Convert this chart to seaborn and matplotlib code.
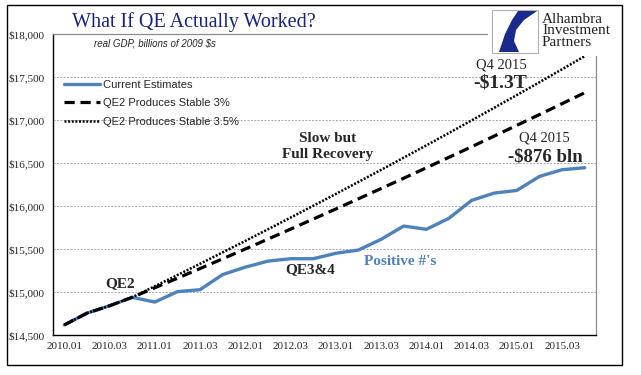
import numpy as np
import pandas as pd
import matplotlib.pyplot as plt
from matplotlib.patches import Rectangle, Polygon
import seaborn as sns

# Quarterly categories shown on the x axis
quarters = [f"{y}.{q:02d}" for y in range(2010, 2016) for q in (1, 2, 3, 4)]
tick_labels = ["2010.01", "2010.03", "2011.01", "2011.03", "2012.01", "2012.03",
               "2013.01", "2013.03", "2014.01", "2014.03", "2015.01", "2015.03"]

# real GDP, billions of 2009 $
current = [14617, 14754, 14840, 14938, 14883, 15004, 15027, 15203, 15289, 15359,
           15387, 15387, 15450, 15488, 15612, 15767, 15729, 15857, 16065, 16150,
           16181, 16344, 16422, 16445]
stable_3 = [14617, 14754, 14840, 14938, 15049, 15160, 15273, 15386, 15500, 15615,
            15731, 15848, 15965, 16084, 16203, 16323, 16444, 16566, 16689, 16813,
            16938, 17063, 17190, 17317]
stable_35 = [14617, 14754, 14840, 14938, 15067, 15197, 15328, 15461, 15594, 15729,
             15865, 16002, 16140, 16280, 16420, 16562, 16705, 16849, 16995, 17142,
             17290, 17439, 17590, 17742]

df = pd.DataFrame({"quarter": quarters, "idx": np.arange(len(quarters)),
                   "current": current, "s3": stable_3, "s35": stable_35})

sns.set_style("white")
plt.rcParams["font.family"] = ["Liberation Serif", "DejaVu Serif"]

W, H = 641, 375
fig = plt.figure(figsize=(W / 100, H / 100), dpi=100)
ax = fig.add_axes([53 / W, 1 - 335 / H, 543 / W, 301 / H])

blue = "#4F81BD"
sns.lineplot(data=df, x="idx", y="current", ax=ax, color=blue, linewidth=2.4,
             label="Current Estimates")
sns.lineplot(data=df, x="idx", y="s3", ax=ax, color="black", linewidth=2.3,
             linestyle=(0, (3.2, 1.8)), label="QE2 Produces Stable 3%")
sns.lineplot(data=df, x="idx", y="s35", ax=ax, color="black", linewidth=1.8,
             linestyle=(0, (0.8, 0.65)), label="QE2 Produces Stable 3.5%")

ax.set_xlim(-0.5, len(quarters) - 0.5)
ax.set_ylim(14500, 18000)
ax.set_yticks(np.arange(14500, 18001, 500))
ax.set_yticklabels([f"${v:,.0f}" for v in np.arange(14500, 18001, 500)], fontsize=8)
ax.set_xticks(np.arange(-0.5, len(quarters)))
ax.set_xticklabels([])
ax.set_xticks(np.arange(0, len(quarters), 2), minor=True)
ax.set_xticklabels(tick_labels, minor=True, fontsize=8)
ax.tick_params(axis="x", which="major", direction="out", length=4, width=1, color="black")
ax.tick_params(axis="x", which="minor", length=0, pad=5)
ax.tick_params(axis="y", direction="out", length=4, width=1, color="black", pad=2)
ax.set_xlabel("")
ax.set_ylabel("")

ax.yaxis.grid(True, color="#A6A6A6", linestyle=(0, (2, 1.5)), linewidth=0.7)
ax.set_axisbelow(True)
for s in ["left", "bottom"]:
    ax.spines[s].set_color("black")
    ax.spines[s].set_linewidth(1.0)
for s in ["right", "top"]:
    ax.spines[s].set_color("#8C8C8C")
    ax.spines[s].set_linewidth(0.9)

leg = ax.legend(loc="upper left", bbox_to_anchor=(64 / W, 1 - 80 / H),
                bbox_transform=fig.transFigure, frameon=False,
                handlelength=3.2, handletextpad=0.35, labelspacing=0.75,
                borderpad=0, borderaxespad=0,
                prop={"family": "Liberation Sans", "size": 8})

bold = dict(fontweight="bold", fontsize=11, ha="center", va="center")
ax.text(2.46, 15093, "QE2", **bold)
ax.text(10.86, 15256, "QE3&4", **bold)
ax.text(14.84, 15349, "Positive #'s", color=blue, **bold)
ax.text(11.65, 16692, "Slow but\nFull Recovery", linespacing=1.25, **bold)
ax.text(19.3, 17640, "Q4 2015", fontsize=10.5, ha="center", va="center")
ax.text(19.26, 17430, "-$1.3T", fontsize=14, fontweight="bold", ha="center", va="center")
ax.text(21.2, 16791, "Q4 2015", fontsize=10.5, ha="center", va="center")
ax.text(21.25, 16570, "-$876 bln", fontsize=13.5, fontweight="bold", ha="center", va="center")

# title and subtitle
fig.text(194 / W, 1 - 22 / H, "What If QE Actually Worked?", fontsize=14.5,
         color="#1A237A", ha="center", va="center")
fig.text(155 / W, 1 - 44 / H, "real GDP, billions of 2009 $s", fontsize=7,
         style="italic", family="Liberation Sans", ha="center", va="center")

# logo
lax = fig.add_axes([488 / W, 1 - 56 / H, 132 / W, 50 / H])
lax.set_xlim(0, 132)
lax.set_ylim(0, 50)
lax.axis("off")
lax.add_patch(Rectangle((0, 0), 132, 50, facecolor="white", edgecolor="none"))
lax.add_patch(Rectangle((4, 3), 46, 43, facecolor="white", edgecolor="#B0B0B0", linewidth=0.8))
lax.add_patch(Polygon([(30, 45), (49, 45), (36, 36), (28, 26), (26, 15), (31, 4),
                       (11, 4), (17, 22), (24, 36)], closed=True, facecolor="#1A2A8C",
                      edgecolor="none"))
lax.text(54, 25, "Alhambra\nInvestment\nPartners", fontsize=11, linespacing=0.85,
         color="#222222", ha="left", va="center")

# outer frame
fig.patches.append(Rectangle((7 / W, 1 - 365 / H), 615 / W, 360 / H, transform=fig.transFigure,
                             facecolor="none", edgecolor="black", linewidth=1.0))

fig.savefig("out.png", dpi=100)
